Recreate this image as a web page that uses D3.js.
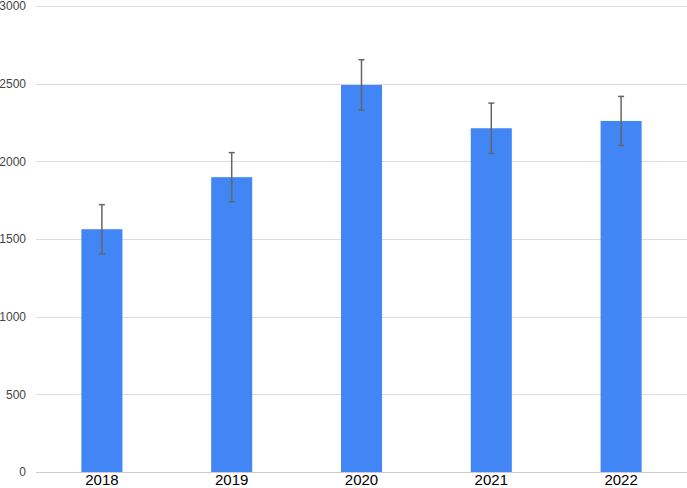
<!DOCTYPE html>
<html>
<head>
<meta charset="utf-8">
<script src="https://cdn.jsdelivr.net/npm/d3@7"></script>
<style>
  body { margin: 0; background: #fff; }
  svg { display: block; font-family: "Liberation Sans", Arial, sans-serif; }
</style>
</head>
<body>
<div id="chart"></div>
<script>
// chart data
const years = ["2018", "2019", "2020", "2021", "2022"];
const values = [1563, 1898, 2492, 2213, 2260];
const errors = [158, 158, 162, 162, 158];
const yTicks = [0, 500, 1000, 1500, 2000, 2500, 3000];

const width = 687, height = 488;
const margin = { top: 6, right: 1, bottom: 16, left: 37 };
const innerWidth = width - margin.left - margin.right;
const innerHeight = height - margin.top - margin.bottom;

const svg = d3.select("#chart")
    .append("svg")
    .attr("width", width)
    .attr("height", height);

const chart = svg.append("g")
    .attr("transform", `translate(${margin.left}, ${margin.top})`);

const xScale = d3.scaleBand()
    .domain(years)
    .range([0, innerWidth])
    .paddingInner(0.684)
    .paddingOuter(0.342);

const yScale = d3.scaleLinear()
    .domain([0, 3000])
    .range([innerHeight, 0]);

// gridlines
chart.append("g")
    .selectAll("line")
    .data(yTicks)
    .enter().append("line")
    .attr("x1", -1)
    .attr("x2", innerWidth + margin.right)
    .attr("y1", d => Math.round(yScale(d)) + 0.5)
    .attr("y2", d => Math.round(yScale(d)) + 0.5)
    .attr("stroke", d => d === 0 ? "#cccccc" : "#dcdcdc")
    .attr("stroke-width", 1);

// y axis labels (no thousands separator)
const yAxis = chart.append("g")
    .call(d3.axisLeft(yScale).tickValues(yTicks).tickFormat(d3.format("d")).tickSize(0).tickPadding(11));
yAxis.select(".domain").remove();
yAxis.selectAll(".tick text")
    .attr("fill", "#444")
    .style("font-size", "12px")
    .style("font-family", "Liberation Sans, Arial, sans-serif");

// bars
chart.selectAll(".bar")
    .data(values)
    .enter().append("rect")
    .attr("class", "bar")
    .attr("x", (d, i) => xScale(years[i]))
    .attr("y", d => yScale(d))
    .attr("width", xScale.bandwidth())
    .attr("height", d => innerHeight - yScale(d))
    .attr("fill", "#4285f4");

// error bars
const err = chart.append("g").attr("stroke", "#666").attr("stroke-width", 1.5);
values.forEach((v, i) => {
    const cx = xScale(years[i]) + xScale.bandwidth() / 2;
    const y1 = yScale(v + errors[i]);
    const y2 = yScale(v - errors[i]);
    err.append("line").attr("x1", cx).attr("x2", cx).attr("y1", y1).attr("y2", y2);
    err.append("line").attr("x1", cx - 3).attr("x2", cx + 3).attr("y1", y1).attr("y2", y1);
    err.append("line").attr("x1", cx - 3).attr("x2", cx + 3).attr("y1", y2).attr("y2", y2);
});

// x axis labels
const xAxis = chart.append("g")
    .attr("transform", `translate(0, ${innerHeight})`)
    .call(d3.axisBottom(xScale).tickSize(0).tickPadding(0));
xAxis.select(".domain").remove();
xAxis.selectAll(".tick text")
    .attr("dy", "0.88em")
    .attr("fill", "#000")
    .style("font-size", "15px")
    .style("font-family", "Liberation Sans, Arial, sans-serif");
</script>
</body>
</html>
